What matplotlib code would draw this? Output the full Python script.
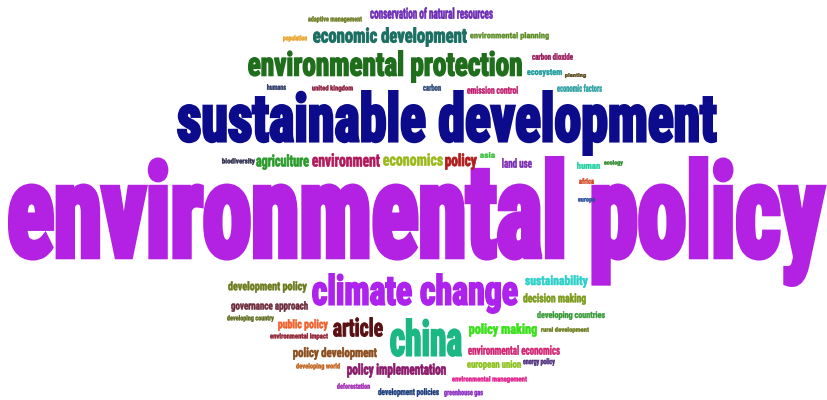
import matplotlib
matplotlib.use("Agg")
import matplotlib.pyplot as plt
from matplotlib.textpath import TextPath
from matplotlib.font_manager import FontProperties, findfont
from matplotlib.patches import PathPatch
from matplotlib.path import Path
import numpy as np

# ---- data: words, relative weights, colours ----
words = [
    "environmental policy", "sustainable development", "environmental protection",
    "climate change", "china", "economic development", "article",
    "conservation of natural resources", "adaptive management", "population",
    "environmental planning", "carbon dioxide", "ecosystem", "planting",
    "economic factors", "emission control", "carbon", "united kingdom", "humans",
    "biodiversity", "agriculture", "environment", "economics", "policy", "asia",
    "land use", "human", "ecology", "africa", "europe",
    "development policy", "sustainability", "decision making", "developing countries",
    "rural development", "policy making", "environmental economics", "european union",
    "energy policy", "environmental management", "greenhouse gas", "development policies",
    "deforestation", "policy implementation", "developing world", "policy development",
    "environmental impact", "public policy", "developing country", "governance approach",
]
weights = [100, 52, 27, 38, 35, 16, 20, 9, 5, 5, 6, 6, 7, 5, 6, 7, 6, 6, 5,
           6, 13, 12, 10, 14, 5, 8, 6, 5, 5, 5,
           9, 11, 10, 8, 6, 12, 9, 9, 7, 6, 7, 8, 6, 12, 6, 11,
           6, 10, 6, 9]
colors = [
    "#b322e2", "#0b0b8c", "#1f6e1c", "#ad22ec", "#1bb884", "#1a6e62", "#5a1012",
    "#6a2ab4", "#6b7a1e", "#e8a020", "#5a8a22", "#9a1a5a", "#1a9a9a", "#5a4a1a",
    "#2aa0a0", "#c0186a", "#2a4a7a", "#8a1a3a", "#2a3a6a",
    "#2a2a4a", "#2a9a2a", "#b0185a", "#9ab81a", "#b01a1a", "#3ac03a",
    "#7a2ab0", "#1ad0a0", "#2a8a2a", "#d0401a", "#2a4a9a",
    "#6a7a1a", "#2ad0c8", "#7a9a1a", "#3a9a3a", "#6a7a1a", "#3ae01a", "#d02070",
    "#8ac01a", "#4a2a7a", "#e01a8a", "#8a2ac0", "#1a3a7a",
    "#a02ab0", "#8a1a6a", "#c0601a", "#8a4a1a",
    "#8a1a2a", "#f0602a", "#5a6a1a", "#6a2a3a",
]

# ---- layout: ink box (left, top, right, bottom) in pixels ----
layout = [
    (8, 156, 826, 287), (177, 90, 717, 156), (248, 50, 522, 83),
    (312, 273, 518, 314), (390, 318, 462, 357), (313, 27, 467, 47), (333, 317, 383, 337),
    (370, 7, 493, 19), (308, 16, 362, 23), (283, 35, 307, 42),
    (470, 32, 549, 40), (532, 53, 573, 60), (527, 69, 562, 77), (565, 73, 586, 78),
    (557, 84, 602, 92), (467, 86, 518, 94), (423, 84, 441, 91), (312, 85, 353, 92), (267, 84, 286, 90),
    (222, 158, 255, 165), (256, 154, 309, 170), (312, 153, 380, 167), (383, 153, 443, 166),
    (445, 153, 477, 170), (480, 152, 495, 158),
    (502, 158, 532, 168), (577, 162, 600, 169), (604, 160, 623, 166), (579, 178, 594, 184),
    (578, 198, 595, 203),
    (228, 281, 307, 293), (525, 275, 588, 288), (523, 293, 586, 305), (537, 311, 605, 320),
    (541, 327, 589, 333), (469, 323, 537, 337), (468, 345, 560, 355), (467, 360, 521, 370),
    (523, 358, 555, 366), (452, 376, 527, 383), (444, 389, 483, 397), (378, 388, 439, 397),
    (337, 383, 370, 389), (347, 363, 446, 378), (296, 363, 340, 370), (293, 347, 377, 360),
    (270, 333, 328, 340), (278, 319, 328, 331), (227, 315, 274, 322), (231, 301, 308, 312),
]

W, H = 828, 400
fig = plt.figure(figsize=(W / 100, H / 100), dpi=100)
ax = fig.add_axes([0, 0, 1, 1])
ax.set_xlim(0, W)
ax.set_ylim(H, 0)
ax.axis("off")

fp = None
for c in ["Liberation Sans Narrow", "Roboto Condensed", "DejaVu Sans"]:
    p = FontProperties(family=c, weight="bold")
    try:
        findfont(p, fallback_to_default=False)
        fp = p
        break
    except Exception:
        continue
if fp is None:
    fp = FontProperties(family="DejaVu Sans", weight="bold")

order = np.argsort(weights)[::-1]   # big words first, small words on top
for i in order:
    word, col = words[i], colors[i]
    x0, y0, x1, y1 = layout[i]
    stroke = 0.045 * (y1 - y0)          # extra weight, in pixels
    h = stroke / 2
    bx0, by0, bx1, by1 = x0 + h, y0 + h, x1 - h, y1 - h
    tp = TextPath((0, 0), word, size=100, prop=fp)
    v = tp.vertices.copy()
    ext = tp.get_extents()
    sx = (bx1 - bx0) / ext.width
    sy = (by1 - by0) / ext.height
    nv = np.empty_like(v)
    nv[:, 0] = bx0 + (v[:, 0] - ext.x0) * sx
    nv[:, 1] = by0 + (ext.y1 - v[:, 1]) * sy
    path = Path(nv, tp.codes)
    ax.add_patch(PathPatch(path, facecolor=col, edgecolor=col,
                           lw=max(stroke, 0.4) * 72 / 100, joinstyle="miter"))

fig.savefig("out.png", dpi=100, facecolor="white")
